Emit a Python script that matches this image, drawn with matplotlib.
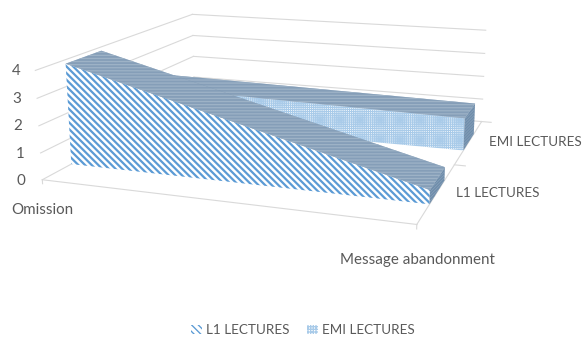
import matplotlib
matplotlib.use("Agg")
import matplotlib.pyplot as plt
from mpl_toolkits.mplot3d.art3d import Poly3DCollection
from matplotlib.patches import Patch

W, H = 583, 338
DPI = 80

categories = ["Omission", "Message abandonment"]
series_names = ["L1 LECTURES", "EMI LECTURES"]
l1_values = [3.85, 0.5]
emi_values = [1.52, 1.3]
value_ticks = [0, 1, 2, 3, 4]

TEXT = '#595959'
GRID = '#d9d9d9'
BLUE = '#5b9bd5'

plt.rcParams['font.family'] = ['Lato', 'DejaVu Sans']

# scale and view of the 3D box, in pixels of the saved figure
scale = 2592.32
left = 282.5 - 0.095 * scale
bottom = 239.26 - 0.095 * scale
side = 0.185 * scale

fig = plt.figure(figsize=(W / DPI, H / DPI), dpi=DPI)
ax = fig.add_axes([left / W, bottom / H, side / W, side / H],
                  projection='3d', computed_zorder=False)
ax.view_init(elev=13.809, azim=-70.287, roll=0.228)
ax.set_proj_type('persp', focal_length=0.388)
ax.set_box_aspect((1, 0.9617, 0.2942))
ax.set_xlim(0, 1)
ax.set_ylim(0, 1)
ax.set_zlim(0, 4)
ax.set_axis_off()
ax.patch.set_alpha(0)


def line3d(xs, ys, zs):
    ax.plot(xs, ys, zs, color=GRID, lw=1.0, zorder=1, clip_on=False)


# walls
for v in value_ticks:
    line3d([0, 0], [0, 1], [v, v])
    line3d([0, 1], [1, 1], [v, v])
# floor front and side edges, with tick marks
line3d([0, 1], [0, 0], [0, 0])
line3d([1, 1], [0, 1], [0, 0])
line3d([0, 0], [0, 0], [0, -0.15])
line3d([1, 1], [0, 0], [0, -0.15])
line3d([1, 1.03], [0.5, 0.5], [0, 0])
line3d([1, 1.03], [1, 1], [0, 0])


def face(verts, fc, ec, hatch, hatch_lw, z):
    plt.rcParams['hatch.linewidth'] = hatch_lw
    poly = Poly3DCollection([verts], facecolors=fc, edgecolors=ec, hatch=hatch,
                            linewidths=0, zorder=z)
    ax.add_collection3d(poly)


def ribbon(values, y0, y1, front, z):
    a, b = values
    # front face
    face([(0, y0, 0), (1, y0, 0), (1, y0, b), (0, y0, a)], *front, z)
    # right end cap
    face([(1, y0, 0), (1, y1, 0), (1, y1, b), (1, y0, b)],
         '#6f8dab', '#8ea6bd', '/////////', 0.5, z + 1)
    # top surface
    face([(0, y0, a), (1, y0, b), (1, y1, b), (0, y1, a)],
         '#718eac', '#a3b7ca', '---------', 0.8, z + 2)


ribbon(emi_values, 0.65, 0.84, ('#ffffff', '#a9cbe9', '+++++++', 0.9), 2)
ribbon(l1_values, 0.15, 0.35, ('#ffffff', BLUE, '\\\\\\\\', 2.0), 5)

# value axis labels
for v, (px, py) in zip(value_ticks, [(21, 181), (20, 154), (18, 126), (17, 99), (16, 71)]):
    fig.text(px / W, 1 - py / H, str(v), color=TEXT, fontsize=13.6, ha='center', va='center')
# category and series labels
fig.text(42 / W, 1 - 210 / H, categories[0], color=TEXT, fontsize=13.6, ha='center', va='center')
fig.text(417 / W, 1 - 260 / H, categories[1], color=TEXT, fontsize=13.6, ha='center', va='center')
fig.text(498 / W, 1 - 193 / H, series_names[0], color=TEXT, fontsize=12.2, ha='center', va='center')
fig.text(535 / W, 1 - 142 / H, series_names[1], color=TEXT, fontsize=12.2, ha='center', va='center')

plt.rcParams['hatch.linewidth'] = 1.2
handles = [Patch(facecolor='white', edgecolor=BLUE, hatch='\\\\\\\\', lw=0),
           Patch(facecolor='white', edgecolor='#a9cbe9', hatch='+++++', lw=0)]
fig.legend(handles, series_names, ncol=2, loc='center', frameon=False,
           bbox_to_anchor=(303 / W, 1 - 330 / H), fontsize=12.2, labelcolor=TEXT,
           handlelength=0.8, handleheight=0.7, handletextpad=0.3, columnspacing=1.3)

fig.savefig('out.png', dpi=DPI)
